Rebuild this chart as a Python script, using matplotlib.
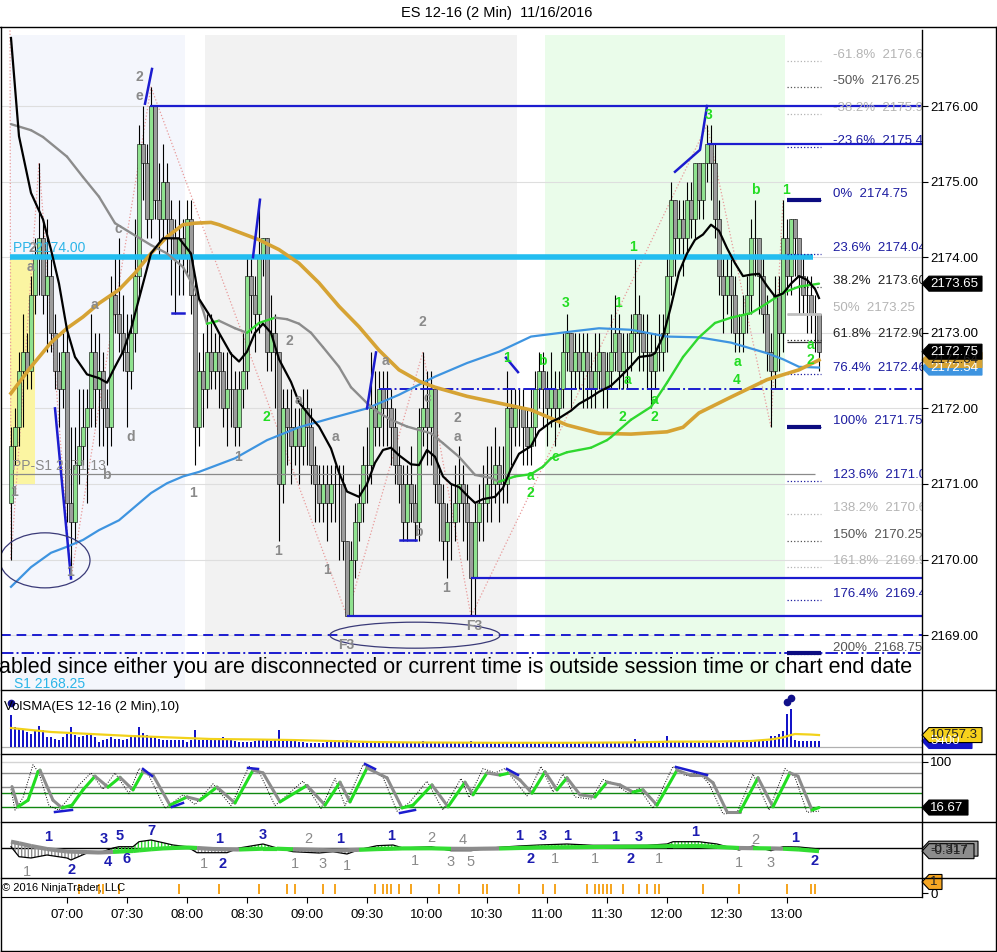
import numpy as np
import matplotlib.pyplot as plt
from matplotlib.patches import Ellipse, Polygon

plt.rcParams['font.family'] = ['Liberation Sans', 'DejaVu Sans']
plt.rcParams['hatch.linewidth'] = 1.0

W, H = 997, 952

# ---- price bars (2 min, bar 0 = 06:32) ----
first_open = 2170.75
closes = [
    2171.50, 2171.75, 2172.50, 2172.75, 2172.50, 2173.50, 2174.00, 2174.25, 2173.50, 2173.75,
    2173.00, 2172.50, 2172.25, 2172.75, 2170.75, 2170.50, 2171.25, 2171.50, 2171.75, 2172.00,
    2172.75, 2172.25, 2172.50, 2172.00, 2171.75, 2173.50, 2173.25, 2173.00, 2172.75, 2172.50,
    2173.00, 2173.75, 2175.50, 2175.25, 2174.50, 2176.00, 2174.75, 2174.50, 2175.00, 2174.50,
    2174.25, 2174.00, 2174.25, 2174.00, 2174.50, 2173.50, 2171.75, 2172.50, 2172.25, 2172.75,
    2172.50, 2172.75, 2172.50, 2172.00, 2172.25, 2172.25, 2171.75, 2172.25, 2172.50, 2173.75,
    2173.50, 2173.25, 2174.00, 2174.25, 2172.75, 2173.00, 2172.75, 2171.00, 2172.00, 2171.75,
    2171.50, 2171.75, 2171.50, 2172.00, 2171.75, 2171.25, 2171.00, 2170.75, 2171.00, 2170.75,
    2171.00, 2171.00, 2171.00, 2170.25, 2169.25, 2170.00, 2170.50, 2170.75, 2171.25, 2171.25,
    2172.00, 2171.75, 2172.25, 2172.00, 2172.00, 2171.75, 2171.25, 2171.00, 2170.50, 2171.00,
    2170.75, 2170.50, 2171.75, 2172.00, 2171.75, 2172.25, 2171.00, 2170.75, 2170.25, 2170.50,
    2170.50, 2170.75, 2171.00, 2170.75, 2170.50, 2169.75, 2170.50, 2170.75, 2170.75, 2171.00,
    2171.00, 2171.25, 2171.00, 2171.00, 2172.00, 2171.75, 2172.00, 2172.00, 2171.75, 2171.50,
    2171.75, 2172.25, 2172.50, 2172.25, 2172.00, 2172.25, 2172.00, 2172.25, 2172.75, 2173.00,
    2172.50, 2172.75, 2172.50, 2172.75, 2172.50, 2172.25, 2172.50, 2172.75, 2172.25, 2172.50,
    2172.75, 2173.00, 2172.50, 2172.75, 2172.75, 2173.00, 2173.25, 2173.00, 2172.75, 2172.75,
    2172.50, 2172.75, 2172.75, 2173.00, 2173.75, 2174.75, 2174.25, 2174.50, 2174.25, 2174.75,
    2174.50, 2175.25, 2174.75, 2175.25, 2175.50, 2175.25, 2174.50, 2173.75, 2173.50, 2173.75,
    2173.50, 2173.00, 2173.00, 2173.25, 2173.50, 2174.25, 2174.25, 2173.75, 2173.25, 2172.75,
    2172.50, 2173.50, 2173.00, 2174.25, 2173.75, 2174.50, 2174.25, 2173.75, 2173.50, 2173.50,
    2173.25, 2173.25, 2172.75]
highs = [
    2171.75, 2172.00, 2172.75, 2173.25, 2173.00, 2173.75, 2174.25, 2175.25, 2174.50, 2174.50,
    2174.00, 2173.25, 2172.75, 2173.00, 2173.00, 2171.75, 2171.75, 2172.25, 2172.25, 2172.25,
    2173.25, 2173.00, 2173.00, 2172.75, 2172.25, 2173.75, 2174.00, 2174.25, 2173.50, 2173.25,
    2173.25, 2174.50, 2175.75, 2176.00, 2175.50, 2176.25, 2176.00, 2175.25, 2175.50, 2175.25,
    2174.75, 2174.50, 2174.75, 2174.50, 2174.75, 2174.75, 2173.75, 2172.75, 2173.00, 2173.25,
    2173.25, 2173.00, 2173.00, 2172.75, 2172.75, 2172.75, 2172.50, 2172.50, 2173.00, 2174.00,
    2174.00, 2173.75, 2174.75, 2174.25, 2174.25, 2173.50, 2173.25, 2172.75, 2172.25, 2172.25,
    2172.25, 2172.00, 2172.00, 2172.25, 2172.25, 2172.00, 2171.50, 2171.25, 2171.25, 2171.25,
    2171.25, 2171.25, 2171.25, 2171.25, 2170.25, 2170.25, 2170.75, 2171.00, 2171.50, 2171.75,
    2172.75, 2172.50, 2172.50, 2172.50, 2172.50, 2172.25, 2172.00, 2171.50, 2171.25, 2171.25,
    2171.50, 2171.00, 2172.00, 2172.75, 2172.50, 2172.50, 2172.25, 2171.25, 2171.00, 2170.75,
    2171.00, 2171.25, 2171.50, 2171.25, 2171.00, 2170.50, 2170.75, 2171.00, 2171.25, 2171.50,
    2171.50, 2171.75, 2171.50, 2171.50, 2172.50, 2172.25, 2172.25, 2172.25, 2172.25, 2172.00,
    2172.25, 2172.50, 2172.75, 2172.75, 2172.50, 2172.75, 2172.50, 2172.50, 2173.00, 2173.25,
    2173.00, 2173.00, 2173.00, 2173.00, 2173.00, 2172.75, 2173.00, 2173.00, 2172.75, 2172.75,
    2173.25, 2173.50, 2173.25, 2173.00, 2173.00, 2173.25, 2174.00, 2173.50, 2173.25, 2173.25,
    2173.00, 2173.00, 2173.25, 2173.25, 2174.00, 2175.00, 2174.75, 2174.75, 2174.75, 2175.00,
    2175.00, 2175.25, 2175.25, 2175.25, 2175.75, 2175.75, 2175.50, 2174.75, 2174.00, 2174.00,
    2174.00, 2173.75, 2173.25, 2173.50, 2173.75, 2174.50, 2174.75, 2174.25, 2174.00, 2173.50,
    2173.00, 2173.75, 2173.75, 2174.75, 2174.50, 2174.50, 2174.50, 2174.25, 2174.00, 2173.75,
    2173.75, 2173.50, 2173.25]
lows = [
    2170.00, 2171.25, 2171.50, 2171.75, 2172.25, 2172.25, 2173.25, 2173.50, 2173.25, 2172.75,
    2172.75, 2172.25, 2171.75, 2172.00, 2170.50, 2169.75, 2170.25, 2171.00, 2171.25, 2170.75,
    2171.75, 2171.75, 2171.50, 2171.50, 2171.25, 2171.50, 2173.00, 2172.75, 2172.50, 2171.75,
    2172.25, 2172.75, 2173.50, 2174.75, 2174.25, 2174.25, 2174.50, 2174.00, 2174.25, 2174.00,
    2173.50, 2173.25, 2173.50, 2173.50, 2173.75, 2173.25, 2171.25, 2171.50, 2171.75, 2172.00,
    2172.25, 2172.25, 2172.00, 2171.75, 2171.50, 2171.75, 2171.50, 2171.50, 2172.00, 2172.25,
    2173.00, 2172.75, 2173.00, 2173.75, 2172.50, 2172.50, 2172.00, 2170.25, 2170.75, 2171.25,
    2171.00, 2171.25, 2171.00, 2171.25, 2171.25, 2171.00, 2170.50, 2170.50, 2170.50, 2170.25,
    2170.50, 2170.50, 2170.00, 2170.00, 2169.25, 2169.25, 2169.75, 2170.25, 2170.50, 2170.75,
    2171.00, 2171.50, 2171.50, 2171.50, 2171.50, 2171.25, 2171.00, 2170.75, 2170.25, 2170.25,
    2170.50, 2170.25, 2170.25, 2171.50, 2171.25, 2171.25, 2170.75, 2170.25, 2170.00, 2169.75,
    2170.00, 2170.25, 2170.50, 2170.25, 2170.00, 2169.25, 2169.25, 2170.25, 2170.25, 2170.50,
    2170.50, 2170.75, 2170.50, 2170.75, 2170.75, 2171.25, 2171.50, 2171.50, 2171.25, 2171.25,
    2171.25, 2171.50, 2172.00, 2171.75, 2171.50, 2171.75, 2171.50, 2171.75, 2172.00, 2172.50,
    2172.00, 2172.25, 2172.25, 2172.00, 2172.00, 2172.00, 2172.00, 2172.25, 2172.00, 2172.00,
    2172.25, 2172.50, 2172.25, 2172.25, 2172.25, 2172.50, 2172.75, 2172.50, 2172.50, 2172.25,
    2172.00, 2172.25, 2172.50, 2172.50, 2172.75, 2173.50, 2173.75, 2174.00, 2173.75, 2174.00,
    2174.25, 2174.25, 2174.50, 2174.50, 2175.00, 2174.75, 2174.25, 2173.50, 2173.00, 2173.25,
    2173.00, 2172.75, 2172.75, 2172.75, 2173.00, 2173.25, 2173.75, 2173.25, 2173.00, 2172.50,
    2171.75, 2172.25, 2172.50, 2172.75, 2173.50, 2173.50, 2173.75, 2173.25, 2173.25, 2173.00,
    2173.00, 2172.75, 2172.50]
volume = [
    28800, 18000, 16200, 15300, 13500, 11700, 15300, 18900, 15300, 9000,
    9000, 7200, 6300, 9000, 11700, 18000, 10800, 9000, 9900, 10800,
    10800, 9000, 4500, 6300, 7200, 9000, 7200, 7200, 6300, 7200,
    9000, 10800, 18000, 12600, 10800, 9000, 9000, 7200, 6300, 6300,
    6300, 6300, 6300, 6300, 4500, 6300, 15300, 6300, 6300, 6300,
    6300, 6300, 7200, 9000, 6300, 6300, 5400, 4500, 4500, 4500,
    4500, 5400, 6300, 6300, 6300, 5400, 6300, 15300, 6300, 6300,
    6300, 6300, 4500, 4500, 3600, 3600, 3600, 3600, 3600, 6300,
    4500, 4500, 4500, 4500, 6300, 4500, 3600, 3600, 4500, 4500,
    4500, 4500, 4500, 3600, 3600, 4500, 4500, 3600, 3600, 3600,
    4500, 3600, 4500, 5400, 4500, 3600, 3600, 3600, 4500, 3600,
    3600, 3600, 4500, 3600, 3600, 5400, 4500, 3600, 3600, 3600,
    3600, 3600, 3600, 3600, 3600, 3600, 3600, 3600, 3600, 3600,
    3600, 3600, 3600, 3600, 3600, 3600, 3600, 3600, 3600, 3600,
    4500, 3600, 3600, 3600, 3600, 3600, 3600, 3600, 3600, 3600,
    3600, 3600, 3600, 3600, 4500, 4500, 7200, 4500, 3600, 3600,
    3600, 3600, 3600, 3600, 9900, 5400, 4500, 4500, 4500, 3600,
    4500, 3600, 4500, 3600, 3600, 4500, 4500, 3600, 3600, 4500,
    5400, 4500, 4500, 4500, 5400, 5400, 6300, 5400, 5400, 5400,
    9900, 9900, 11700, 14400, 29700, 34200, 6300, 5400, 5400, 5400,
    5400, 5400, 5400]

# ---- moving averages (bar position, price) ----
fast_bars = [0, 2, 5, 8, 10, 12, 14, 16, 19, 22, 24, 26, 28, 30, 32, 35, 38, 42, 45, 47,
             50, 52, 55, 57, 59, 61, 63, 65, 67, 70, 72, 75, 77, 80, 82, 84, 87, 89, 91, 93,
             95, 97, 100, 102, 104, 106, 108, 110, 112, 114, 116, 118, 121, 123, 125, 127, 130, 132, 135, 137,
             140, 142, 145, 147, 150, 152, 155, 157, 160, 161, 163, 165, 167, 169, 171, 173, 175, 177, 179, 181,
             183, 185, 187, 189, 191, 193, 195, 197, 199, 201, 202]
fast_ma = [2176.90, 2175.60, 2174.85, 2174.50, 2174.10, 2173.65, 2173.04, 2172.68, 2172.45, 2172.40,
           2172.34, 2172.55, 2172.75, 2173.05, 2173.45, 2174.05, 2174.25, 2174.25, 2174.05, 2173.45,
           2173.20, 2173.00, 2172.72, 2172.62, 2172.75, 2173.00, 2173.12, 2173.00, 2172.65, 2172.35,
           2172.08, 2171.88, 2171.76, 2171.47, 2171.15, 2170.90, 2170.83, 2171.00, 2171.28, 2171.45,
           2171.48, 2171.38, 2171.26, 2171.25, 2171.45, 2171.36, 2171.10, 2171.00, 2170.96, 2170.85,
           2170.75, 2170.80, 2170.83, 2170.95, 2171.20, 2171.40, 2171.50, 2171.70, 2171.82, 2171.87,
           2171.97, 2172.06, 2172.15, 2172.22, 2172.30, 2172.40, 2172.56, 2172.68, 2172.70, 2172.73,
           2172.95, 2173.35, 2173.80, 2174.05, 2174.23, 2174.30, 2174.43, 2174.35, 2174.12, 2173.92,
           2173.75, 2173.77, 2173.78, 2173.62, 2173.48, 2173.52, 2173.65, 2173.75, 2173.70, 2173.58,
           2173.46]
slow_bars = [0, 5, 8, 14, 18, 22, 26, 30, 35, 39, 43, 46, 48, 49, 52, 56, 59, 62, 66, 69,
             72, 75, 78, 82, 85, 89, 92, 95, 99, 105, 108, 112, 116, 120, 122, 126, 130, 133, 135, 139,
             142, 145, 149, 150, 155, 160, 164, 168, 172, 176, 180, 185, 189, 193, 197, 202]
slow_ma = [2175.76, 2175.68, 2175.59, 2175.33, 2175.06, 2174.80, 2174.45, 2174.32, 2174.16, 2174.05,
           2173.87, 2173.58, 2173.30, 2173.12, 2173.16, 2173.06, 2173.00, 2173.13, 2173.20, 2173.18,
           2173.12, 2173.00, 2172.81, 2172.55, 2172.28, 2172.07, 2171.94, 2171.85, 2171.76, 2171.67,
           2171.54, 2171.36, 2171.12, 2171.08, 2171.03, 2171.10, 2171.13, 2171.23, 2171.34, 2171.42,
           2171.45, 2171.48, 2171.58, 2171.62, 2171.85, 2172.02, 2172.34, 2172.68, 2172.94, 2173.13,
           2173.20, 2173.26, 2173.39, 2173.53, 2173.61, 2173.65]
gold_bars = [0, 5, 10, 14, 18, 22, 27, 31, 35, 39, 43, 46, 50, 52, 57, 62, 67, 72, 77, 82,
             87, 92, 97, 102, 106, 114, 122, 130, 139, 147, 155, 164, 168, 172, 180, 189, 197, 202]
gold_ma = [2172.20, 2172.55, 2172.87, 2173.06, 2173.21, 2173.39, 2173.57, 2173.79, 2174.05, 2174.27,
           2174.43, 2174.45, 2174.46, 2174.43, 2174.33, 2174.23, 2174.10, 2173.92, 2173.66, 2173.35,
           2173.08, 2172.77, 2172.51, 2172.36, 2172.28, 2172.16, 2172.07, 2171.98, 2171.78, 2171.67,
           2171.66, 2171.69, 2171.75, 2171.94, 2172.15, 2172.38, 2172.51, 2172.64]
blue_bars = [0, 5, 10, 14, 18, 22, 27, 31, 35, 39, 43, 47, 56, 64, 72, 80, 89, 97, 106, 114,
             122, 130, 139, 147, 155, 164, 172, 180, 189, 193, 197, 202]
blue_ma = [2169.64, 2169.90, 2170.09, 2170.17, 2170.26, 2170.39, 2170.52, 2170.70, 2170.88, 2171.01,
           2171.10, 2171.16, 2171.34, 2171.58, 2171.75, 2171.87, 2172.00, 2172.18, 2172.42, 2172.60,
           2172.75, 2172.95, 2173.01, 2173.06, 2173.04, 2172.95, 2172.94, 2172.87, 2172.73, 2172.65,
           2172.55, 2172.54]

# ---- levels ----
pp_level = 2174.00
pp_s1_level = 2171.13
fib_pcts = ['-61.8%', '-50%', '-38.2%', '-23.6%', '0%', '23.6%', '38.2%', '50%', '61.8%',
            '76.4%', '100%', '123.6%', '138.2%', '150%', '161.8%', '176.4%', '200%']
fib_prices = [2176.60, 2176.25, 2175.90, 2175.46, 2174.75, 2174.04, 2173.60, 2173.25, 2172.90,
              2172.46, 2171.75, 2171.04, 2170.60, 2170.25, 2169.90, 2169.46, 2168.75]
fib_shown = ['2176.60', '2176.25', '2175.90', '2175.46', '2174.75', '2174.04', '2173.60', '2173.25',
             '2172.90', '2172.46', '2171.75', '2171.04', '2170.60', '2170.25', '2169.90', '2169.46', '2168.75']
fib_colors = ['#b4b4b4', '#555555', '#b4b4b4', '#1c1ca0', '#1c1ca0', '#1c1ca0', '#222222', '#b4b4b4', '#222222',
              '#1c1ca0', '#1c1ca0', '#1c1ca0', '#b4b4b4', '#555555', '#b4b4b4', '#1c1ca0', '#555555']

# wave labels on the price panel: (bar, price, text, colour)
GR, GN = '#8a8a8a', '#22dd22'
wave_labels = [
    (32.0, 2176.38, '2', GR), (32.0, 2176.13, 'e', GR), (26.75, 2174.37, 'c', GR), (5.25, 2174.12, '2', GR),
    (4.75, 2173.87, 'a', GR), (20.75, 2173.37, 'a', GR), (30.0, 2171.62, 'd', GR), (23.75, 2171.12, 'b', GR),
    (0.75, 2170.89, '1', GR), (14.75, 2169.83, '1', GR), (45.5, 2170.88, '1', GR), (56.75, 2171.36, '1', GR),
    (69.5, 2172.89, '2', GR), (71.75, 2172.11, 'a', GR), (66.75, 2170.12, '1', GR), (81.0, 2171.62, 'a', GR),
    (79.0, 2169.86, '1', GR), (102.75, 2173.14, '2', GR), (104.0, 2172.14, 'c', GR), (101.75, 2170.36, 'b', GR),
    (111.5, 2171.87, '2', GR), (111.5, 2171.62, 'a', GR), (93.5, 2172.63, 'a', GR), (108.75, 2169.62, '1', GR),
    (83.75, 2168.87, 'F3', GR), (115.75, 2169.12, 'F3', GR),
    (63.75, 2171.88, '2', GN), (124.0, 2172.67, '1', GN), (132.75, 2172.63, 'b', GN), (138.75, 2173.39, '3', GN),
    (151.75, 2173.39, '1', GN), (155.5, 2174.13, '1', GN), (154.0, 2172.37, 'a', GN), (152.75, 2171.88, '2', GN),
    (160.75, 2172.11, 'a', GN), (160.75, 2171.88, '2', GN), (129.75, 2171.10, 'a', GN), (129.75, 2170.88, '2', GN),
    (136.0, 2171.36, 'c', GN), (174.5, 2175.88, '3', GN), (186.0, 2174.89, 'b', GN), (193.75, 2174.89, '1', GN),
    (181.5, 2172.61, 'a', GN), (181.5, 2172.37, '4', GN), (199.75, 2172.84, 'a', GN), (199.75, 2172.64, '2', GN),
]
zigzag_bars = [-0.25, 0, 7, 15, 35, 84, 103, 115, 174, 190, 193]
zigzag_prices = [2177.0, 2170.0, 2175.25, 2169.75, 2176.25, 2169.25, 2172.75, 2169.25, 2175.75, 2171.75, 2174.75]
trend_marks = [
    ([33.5, 35.25], [2176.03, 2176.49]), ([60.5, 62.25], [2174.0, 2174.76]),
    ([89.0, 91.25], [2172.0, 2172.74]), ([11.0, 15.0], [2172.0, 2169.75]),
    ([123.75, 126.75], [2172.67, 2172.48]), ([166.0, 172.25, 174.0], [2175.13, 2175.42, 2176.0]),
    ([40.25, 43.25], [2173.26, 2173.26]), ([97.25, 101.25], [2170.26, 2170.26]),
]

# ---- volume SMA ----
vsma_bars = [0, 10, 20, 30, 40, 50, 60, 70, 80, 90, 100, 120, 140, 155, 165, 175, 185, 190, 193, 195, 196, 200, 202]
vsma = [17100, 13500, 11700, 9900, 8600, 7200, 6800, 6300, 5400, 4500, 4100, 3800, 3800, 4100, 4800, 4800,
        5400, 6800, 8600, 10800, 11700, 11200, 10757.3]

# ---- stochastics ----
stoch_d_bars = [0.25, 1.75, 4.25, 6.75, 7.25, 10.5, 12.75, 15.25, 18, 21, 24.25, 27.25, 30.5, 33, 35.5,
                39.75, 44, 47.25, 51.5, 56, 60.5, 63, 67.25, 74, 78.5, 82.25, 84.75, 89, 94, 97.75,
                100.5, 105.25, 109.25, 113.5, 115.5, 119, 122.25, 124.75, 127.25, 130.25, 133.5, 136.5, 139, 142.25,
                146, 149, 152.25, 155.5, 158, 161.5, 166.5, 169.75, 173, 175.5, 179, 182.25, 186.75, 190.5,
                194.75, 196.75, 200.25, 202]
stoch_d = [55, 18, 30, 82, 85, 30, 16, 21, 49, 74, 54, 72, 49, 82, 76, 21, 36, 30, 54, 25, 85, 80, 27, 57,
           21, 63, 27, 89, 71, 16, 21, 58, 18, 63, 40, 80, 76, 80, 67, 43, 82, 49, 71, 40, 36, 63, 58, 45,
           49, 21, 85, 76, 76, 62, 9, 9, 71, 18, 80, 74, 12, 16.67]
stoch_k_bars = [0, 1, 3, 5.5, 7, 9.5, 12, 14, 17, 20, 23, 26, 29.5, 32, 34.5, 38.5, 43, 46, 50.5, 55,
                59.5, 62, 66, 73, 77.5, 81, 83.5, 88, 93, 96.5, 99.5, 104, 108, 112.5, 114.5, 118, 121, 123.5,
                126, 129, 132.5, 135.5, 138, 141, 145, 148, 151, 154.5, 157, 160.5, 165.5, 168.5, 172, 174.5,
                178, 181.5, 185.5, 189.5, 193.5, 196, 199, 202]
stoch_k = [50, 12, 35, 95, 80, 20, 12, 30, 58, 80, 50, 80, 42, 88, 75, 15, 40, 22, 60, 20, 92, 82, 20, 65,
           15, 70, 20, 95, 72, 10, 25, 65, 12, 70, 35, 88, 80, 88, 65, 38, 92, 45, 78, 36, 32, 68, 60, 42,
           52, 15, 92, 75, 80, 60, 5, 7, 78, 12, 88, 72, 8, 10]
stoch_levels = [100, 80, 54, 43, 18]
stoch_level_colors = ['#d4d4d4', '#8c8c8c', '#8c8c8c', '#118811', '#118811']
stoch_marks = [
    ([11, 15.25], [8.5, 12.2]), ([33, 35.25], [87.2, 74.4]), ([40.25, 43], [17.7, 25]),
    ([59.25, 61.75], [89, 87.2]), ([88.5, 91], [96.3, 87.2]), ([97.25, 101], [6.7, 12.2]),
    ([124, 126.75], [87.2, 76.2]), ([166.25, 174], [90.8, 76.2]),
]

# ---- oscillator (macd style) ----
osc_bars = [0, 2, 5, 9, 14, 15, 19, 22, 25.5, 27, 30.5, 32, 35, 38, 40.5, 44, 46.5, 50.5, 54, 57,
            63, 66.5, 70.5, 77, 80.5, 84, 87, 91.5, 95.5, 98, 105, 110, 115, 118, 122, 127, 132, 139, 145.5, 152,
            159, 164, 165.5, 172, 176.5, 182, 185.5, 190, 193, 197, 202]
osc_line = [0.13, -0.87, -1.0, -0.7, -1.0, -1.2, -0.5, -0.5, 0.0, 0.13, 0.13, 0.63, 0.8, 0.53, 0.3, 0.13,
            -0.47, -0.47, -0.47, 0.0, 0.4, 0.0, -0.37, -0.5, -0.37, -0.6, -0.17, 0.23, 0.3, 0.0, 0.13, -0.27,
            -0.27, -0.1, 0.07, 0.2, 0.3, 0.4, 0.27, 0.27, 0.27, 0.4, 0.63, 0.63, 0.4, -0.2, 0.2, -0.27, 0.13,
            0.1, -0.1]
osc_signal = [0.63, 0.47, 0.2, -0.1, -0.35, -0.36, -0.41, -0.45, -0.39, -0.36, -0.3, -0.24, -0.13, -0.04,
              0.0, 0.05, 0.0, -0.1, -0.13, -0.15, -0.07, -0.07, -0.13, -0.2, -0.23, -0.22, -0.18, -0.11, -0.07,
              -0.04, -0.03, -0.08, -0.09, -0.07, -0.05, 0.0, 0.05, 0.07, 0.1, 0.12, 0.15, 0.17, 0.17, 0.2,
              0.11, 0.0, -0.02, -0.04, -0.07, -0.15, -0.317]
BL = '#1c1cb0'
osc_labels = [
    (9.25, 1.1, '1', BL), (15.25, -2.2, '2', BL), (4, -2.4, '1', GR), (23.25, 0.9, '3', BL), (27.25, 1.2, '5', BL),
    (24.25, -1.4, '4', BL), (29, -1.1, '6', BL), (35, 1.7, '7', BL), (52, 0.9, '1', BL), (53, -1.6, '2', BL),
    (48.25, -1.6, '1', GR), (63, 1.3, '3', BL), (74.25, 0.9, '2', GR), (71, -1.6, '1', GR), (78, -1.6, '3', GR),
    (82.25, 0.9, '1', BL), (84, -1.8, '1', GR), (95, 1.2, '1', BL), (101, -1.3, '1', GR), (105, 1.0, '2', GR),
    (113, 0.8, '4', GR), (110, -1.4, '3', GR), (115, -1.4, '5', GR), (127, 1.2, '1', BL), (133, 1.2, '3', BL),
    (139, 1.2, '1', BL), (130, -1.1, '2', BL), (136, -1.1, '1', GR), (146, -1.1, '1', GR), (151, 1.1, '1', BL),
    (157, 1.1, '3', BL), (155, -1.1, '2', BL), (162, -1.1, '1', GR), (171, 1.6, '1', BL), (186, 0.8, '2', GR),
    (182, -1.5, '1', GR), (190, -1.5, '3', GR), (196, 1.0, '1', BL), (201, -1.3, '2', BL),
]

# ---- bottom event strip ----
event_bars = [17, 22, 23, 27, 42, 52, 62, 69, 71, 78, 81, 91, 93, 94, 95, 97, 100, 107, 112, 118, 119,
              127, 133, 136, 144, 146, 147, 148, 149, 150, 153, 157, 159, 161, 162, 173, 182, 194, 200, 201]

time_ticks = [14, 29, 44, 59, 74, 89, 104, 119, 134, 149, 164, 179, 194]
time_labels = ['07:00', '07:30', '08:00', '08:30', '09:00', '09:30', '10:00', '10:30',
               '11:00', '11:30', '12:00', '12:30', '13:00']
price_ticks = [2169, 2170, 2171, 2172, 2173, 2174, 2175, 2176]

fig = plt.figure(figsize=(W / 100, H / 100), dpi=100)


def panel(x0, y0, x1, y1):
    a = fig.add_axes([x0 / W, 1 - y1 / H, (x1 - x0) / W, (y1 - y0) / H])
    a.set_xlim(-2.5, 227.75)
    for s in a.spines.values():
        s.set_visible(False)
    a.set_xticks([])
    a.yaxis.tick_right()
    a.tick_params(axis='y', length=4, labelsize=9.5, pad=2, colors='black')
    return a


def two_tone(a, xs, ys, up, down, lw, z):
    for k in range(len(xs) - 1):
        c = up if ys[k + 1] > ys[k] else down
        a.plot(xs[k:k + 2], ys[k:k + 2], color=c, lw=lw, zorder=z, solid_capstyle='round')


ax = panel(1, 27, 922, 690)
axv = panel(1, 690, 922, 754)
axs = panel(1, 754, 922, 822)
axm = panel(1, 822, 922, 878)
axo = panel(1, 878, 922, 897)

# ---------------- price panel ----------------
ax.set_ylim(2168.275, 2177.045)
ax.set_yticks(price_ticks)
ax.set_yticklabels(['%.2f' % p for p in price_ticks])
ax.set_axisbelow(True)
ax.grid(axis='y', color='#dedede', lw=0.8)

top = (690 - 35) / (690 - 27)
ax.axvspan(-0.25, 43.5, ymax=top, color='#f4f6fc', zorder=0, lw=0)
ax.axvspan(48.5, 126.5, ymax=top, color='#f2f2f2', zorder=0, lw=0)
ax.axvspan(133.5, 193.5, ymax=top, color='#eafcea', zorder=0, lw=0)
ax.fill_between([-0.25, 6], 2171.0, 2174.0, color='#fbf5a2', zorder=0.6, lw=0)

ax.plot(zigzag_bars, zigzag_prices, color='#e89a9a', lw=0.9, ls=':', zorder=2)

idx = np.arange(len(closes))
opens = np.array([first_open] + closes[:-1])
cl = np.array(closes)
body_lo = np.minimum(opens, cl)
body_h = np.abs(cl - opens)
colors = ['#8fe28f' if c > o else '#9c9c9c' for o, c in zip(opens, cl)]
ax.vlines(idx, lows, highs, color='black', lw=0.8, zorder=3)
ax.bar(idx, body_h, bottom=body_lo, width=0.85, color=colors, edgecolor='black', linewidth=0.4, zorder=4)

ax.hlines(pp_s1_level, -0.25, 201, color='#8a8a8a', lw=0.9, zorder=5)
ax.hlines(pp_level, -0.25, 200.5, color='#22bdf0', lw=4, zorder=5)
ax.hlines(2169.0, -2.5, 227.75, color='#1c1cd0', lw=1.4, ls=(0, (5, 3)), zorder=5)
ax.hlines(2168.76, -2.5, 227.75, color='#1c1cd0', lw=1.4, ls='-.', zorder=5)
ax.hlines(2172.25, 92, 227.75, color='#1c1cd0', lw=1.4, ls='-.', zorder=5)
for y0, x0 in [(2176.0, 34.75), (2175.5, 174.0), (2169.75, 115.0), (2169.25, 84.0)]:
    ax.hlines(y0, x0, 227.75, color='#1c1ccf', lw=1.6, zorder=5)
for y0 in [2174.75, 2171.75, 2168.76]:
    ax.hlines(y0, 194, 202.5, color='#0c0c80', lw=3, zorder=6)
ax.hlines(2173.25, 194, 202.5, color='#c0c0c0', lw=2, zorder=6)
ax.hlines(2172.88, 194, 202.5, color='#333333', lw=0.9, zorder=6)

for pct, p, s, c in zip(fib_pcts, fib_prices, fib_shown, fib_colors):
    ax.hlines(p, 194, 202.5, color=c, lw=0.9, ls=':', zorder=5)
    ax.text(205.5, p, '%s  %s' % (pct, s), color=c, fontsize=9.5, va='bottom', ha='left', clip_on=True, zorder=7)

ax.plot(blue_bars, blue_ma, color='#3e94e0', lw=1.6, zorder=7)
ax.plot(gold_bars, gold_ma, color='#d6a334', lw=2.6, zorder=7)
two_tone(ax, slow_bars, slow_ma, '#2fd82f', '#8c8c8c', 1.7, 7)
ax.plot(fast_bars, fast_ma, color='black', lw=1.6, zorder=8)

for xs, ys in trend_marks:
    ax.plot(xs, ys, color='#1c1ccf', lw=1.8, zorder=9)
ax.add_patch(Ellipse((8.5, 2169.99), 22.5, 0.728, fill=False, ec='#3a3a78', lw=0.9, zorder=9))
ax.add_patch(Ellipse((101, 2169.0), 42.5, 0.344, fill=False, ec='#3a3a78', lw=0.9, zorder=9))

for b, p, t, c in wave_labels:
    ax.text(b, p, t, color=c, fontsize=10, fontweight='bold', ha='center', va='center', zorder=10)

ax.text(0.5, 2174.12, 'PP 2174.00', color='#2cb5e8', fontsize=10, va='center', zorder=10)
ax.text(0.25, 2171.24, 'PP-S1 2171.13', color='#8a8a8a', fontsize=10, va='center', zorder=10)
ax.text(0.75, 2168.36, 'S1 2168.25', color='#2cb5e8', fontsize=10, va='center', zorder=10)

# ---------------- volume panel ----------------
axv.set_ylim(-6300, 51300)
axv.set_yticks([])
axv.axhline(0, color='#b0b0b0', lw=0.9, zorder=1)
axv.bar(idx, volume, width=0.55, color='#1414c8', zorder=2)
axv.plot(vsma_bars, vsma, color='#f2d21a', lw=1.6, zorder=3)
axv.plot([0, 194, 195], [39600, 40500, 44100], 'o', color='#10108a', ms=4.5, zorder=4)

# ---------------- stochastics panel ----------------
axs.set_ylim(-9.8, 114.6)
axs.set_yticks([100])
for lv, c in zip(stoch_levels, stoch_level_colors):
    axs.axhline(lv, color=c, lw=1.0, zorder=1)
axs.plot(stoch_k_bars, stoch_k, color='black', lw=0.7, ls=':', zorder=3)
two_tone(axs, stoch_d_bars, stoch_d, '#22dd22', '#8c8c8c', 2.2, 4)
for xs, ys in stoch_marks:
    axs.plot(xs, ys, color='#1c1ccf', lw=1.8, zorder=5)

# ---------------- oscillator panel ----------------
axm.set_ylim(-3.0, 2.6)
axm.set_yticks([])
axm.axhline(0, color='black', lw=1.0, zorder=1)
ob = np.array(osc_bars)
ol = np.array(osc_line)
osg = np.array(osc_signal)
axm.fill_between(ob, ol, osg, where=ol >= osg, interpolate=True, facecolor='none',
                 edgecolor='#33dd33', hatch='|||||', lw=0, zorder=2)
axm.fill_between(ob, ol, osg, where=ol < osg, interpolate=True, facecolor='none',
                 edgecolor='#8c8c8c', hatch='|||||', lw=0, zorder=2)
axm.plot(ob, ol, color='black', lw=0.9, zorder=3)
for k in range(len(ob) - 1):
    c = '#33dd33' if ol[k] >= osg[k] else '#8c8c8c'
    axm.plot(ob[k:k + 2], osg[k:k + 2], color=c, lw=3, zorder=4, solid_capstyle='butt')
for b, v, t, c in osc_labels:
    axm.text(b, v, t, color=c, fontsize=10.5, fontweight='bold' if c == BL else 'normal',
             ha='center', va='center', clip_on=True, zorder=5)

# ---------------- event strip ----------------
axo.set_ylim(-0.36, 1.36)
axo.set_yticks([0])
axo.bar(event_bars, 0.9, bottom=-0.1, width=0.55, color='#f5a623', zorder=2)
axo.spines['bottom'].set_visible(True)
axo.set_xticks(time_ticks)
axo.set_xticklabels(time_labels)
axo.tick_params(axis='x', length=4, labelsize=9.5, pad=5)
axo.text(1 / 921, 0.45, '\u00a9 2016 NinjaTrader, LLC', transform=axo.transAxes, fontsize=8,
         va='center', ha='left', zorder=3)

# ---------------- overlay: frame, title, tags ----------------
ov = fig.add_axes([0, 0, 1, 1], zorder=20)
ov.set_xlim(0, W)
ov.set_ylim(H, 0)
ov.axis('off')
ov.patch.set_alpha(0)

frame = dict(color='black', lw=1.0)
ov.plot([0, 996], [27, 27], **frame)
ov.plot([1, 1], [27, 951], **frame)
ov.plot([996, 996], [27, 951], **frame)
ov.plot([1, 996], [951, 951], **frame)
for yy in [690, 754, 822, 878]:
    ov.plot([1, 996], [yy, yy], **frame)
ov.plot([922, 922], [30, 897], **frame)

ov.text(497, 13, 'ES 12-16 (2 Min)  11/16/2016', ha='center', va='center', fontsize=10.5)
ov.text(4, 707, 'VolSMA(ES 12-16 (2 Min),10)', ha='left', va='center', fontsize=9.5)
ov.text(912, 668, 'abled since either you are disconnected or current time is outside session time or chart end date',
        ha='right', va='center', fontsize=15.5)

fig.canvas.draw()


def ypx(a, v):
    return H - a.transData.transform((0, v))[1]


def tag(a, v, text, fc, tc='white', w=58, ec='black'):
    y = ypx(a, v)
    pts = [(922, y), (929, y - 7.5), (922 + w, y - 7.5), (922 + w, y + 7.5), (929, y + 7.5)]
    ov.add_patch(Polygon(pts, closed=True, fc=fc, ec=ec, lw=0.8))
    ov.text(930, y, text, color=tc, fontsize=9.5, va='center', ha='left')


tag(ax, blue_ma[-1], '%.2f' % blue_ma[-1], '#3e94e0', w=60, ec='#3e94e0')
tag(ax, gold_ma[-1], '%.2f' % gold_ma[-1], '#d6a334', tc='#222222', w=60, ec='#d6a334')
tag(ax, closes[-1], '%.2f' % closes[-1], 'black', w=60)
tag(ax, slow_ma[-1], '%.2f' % slow_ma[-1], 'black', w=60)
tag(axv, volume[-1], str(volume[-1]), '#1414c8', w=50, ec='#1414c8')
tag(axv, vsma[-1], '%.1f' % vsma[-1], '#f7d21c', tc='#222222', w=60)
tag(axs, stoch_d[-1], '%.2f' % stoch_d[-1], 'black', w=46)
tag(axm, osc_signal[-1] + 0.25, '%.3f' % osc_signal[-1], '#9a9a9a', tc='#222222', w=56)
tag(axm, osc_signal[-1], '%.3f' % osc_signal[-1], '#8c8c8c', tc='#222222', w=52)
tag(axo, 1, '1', '#f5a623', tc='#222222', w=20)

fig.savefig('out.png', dpi=100)
